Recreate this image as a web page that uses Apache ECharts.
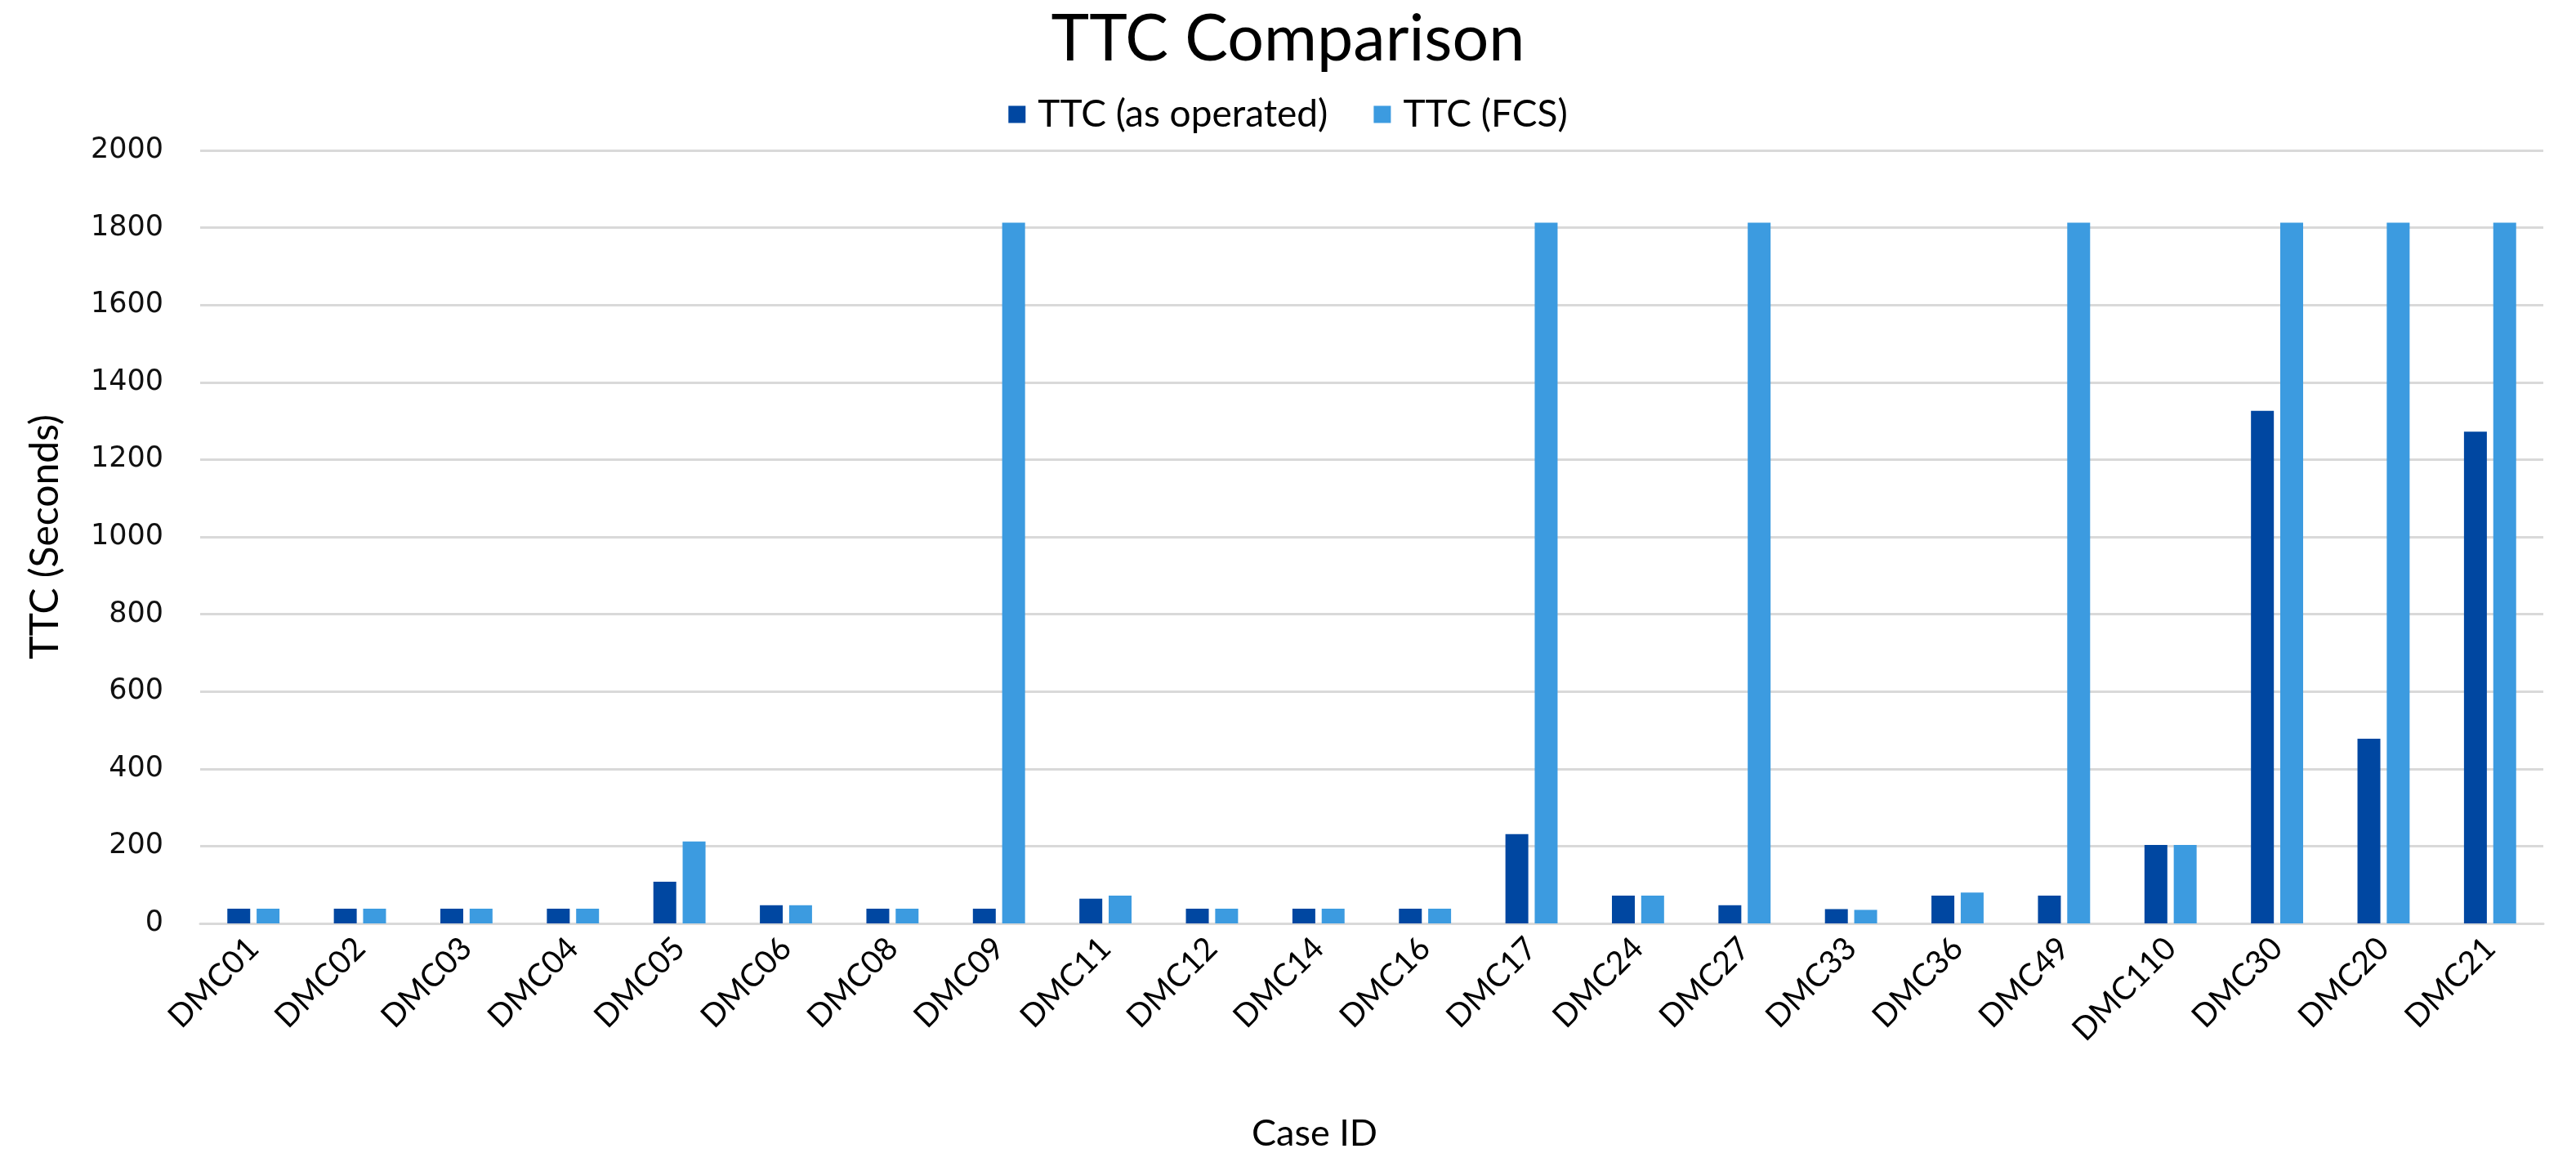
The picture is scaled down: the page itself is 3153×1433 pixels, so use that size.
<!DOCTYPE html>
<html>
<head>
<meta charset="utf-8">
<script src="https://cdn.jsdelivr.net/npm/echarts@6/dist/echarts.min.js"></script>
<style>
html,body{margin:0;padding:0;background:#fff;}
#chart{width:3153px;height:1433px;}
</style>
</head>
<body>
<div id="chart"></div>
<script>
const categories = ["DMC01","DMC02","DMC03","DMC04","DMC05","DMC06","DMC08","DMC09","DMC11","DMC12","DMC14","DMC16","DMC17","DMC24","DMC27","DMC33","DMC36","DMC49","DMC110","DMC30","DMC20","DMC21"];
const ttcAsOperated = [38, 38, 38, 38, 108, 47, 38, 38, 64, 38, 38, 38, 231, 72, 47, 37, 72, 72, 203, 1326, 478, 1272];
const ttcFCS = [38, 38, 38, 38, 212, 47, 38, 1813, 72, 38, 38, 38, 1813, 72, 1813, 35, 80, 1813, 203, 1813, 1813, 1813];
const seriesNames = ["TTC (as operated)", "TTC (FCS)"];
const yTicks = { min: 0, max: 2000, interval: 200 };

const chart = echarts.init(document.getElementById('chart'), null, {renderer: 'canvas'});
chart.setOption({
  animation: false,
  backgroundColor: '#ffffff',
  title: {
    text: 'TTC Comparison',
    left: 'center',
    top: 4,
    textStyle: { fontFamily: 'Lato', fontSize: 79, fontWeight: 'normal', color: '#000' }
  },
  legend: {
    data: seriesNames,
    top: 112,
    left: 'center',
    icon: 'rect',
    itemWidth: 21,
    itemHeight: 21,
    itemGap: 56,
    textStyle: { fontFamily: 'Lato', fontSize: 46, color: '#000', padding: [0, 0, 0, 10] }
  },
  grid: { left: 245, right: 40, top: 184, bottom: 303, containLabel: false },
  xAxis: {
    type: 'category',
    data: categories,
    name: 'Case ID',
    nameLocation: 'middle',
    nameGap: 235,
    nameTextStyle: { fontFamily: 'Lato', fontSize: 45, color: '#000', padding: [0, 140, 0, 0] },
    axisLine: { lineStyle: { color: '#D9D9D9', width: 3 } },
    axisTick: { show: false },
    axisLabel: { rotate: 45, margin: 24, fontFamily: 'Lato', fontSize: 39, color: '#000', interval: 0 }
  },
  yAxis: {
    type: 'value',
    min: yTicks.min, max: yTicks.max, interval: yTicks.interval,
    name: 'TTC (Seconds)',
    nameLocation: 'middle',
    nameGap: 165,
    nameTextStyle: { fontFamily: 'Lato', fontSize: 48, color: '#000' },
    axisLine: { show: false },
    axisTick: { show: false },
    splitLine: { lineStyle: { color: '#D9D9D9', width: 3 } },
    axisLabel: { margin: 45, fontFamily: 'DejaVu Sans', fontSize: 35, color: '#111', formatter: function (v) { return String(v); } }
  },
  series: [
    { name: seriesNames[0], type: 'bar', data: ttcAsOperated, barWidth: 28, barGap: '28%', itemStyle: { color: '#0047A1' } },
    { name: seriesNames[1], type: 'bar', data: ttcFCS, barWidth: 28, barGap: '28%', itemStyle: { color: '#3C9BE0' } }
  ]
});
</script>
</body>
</html>
